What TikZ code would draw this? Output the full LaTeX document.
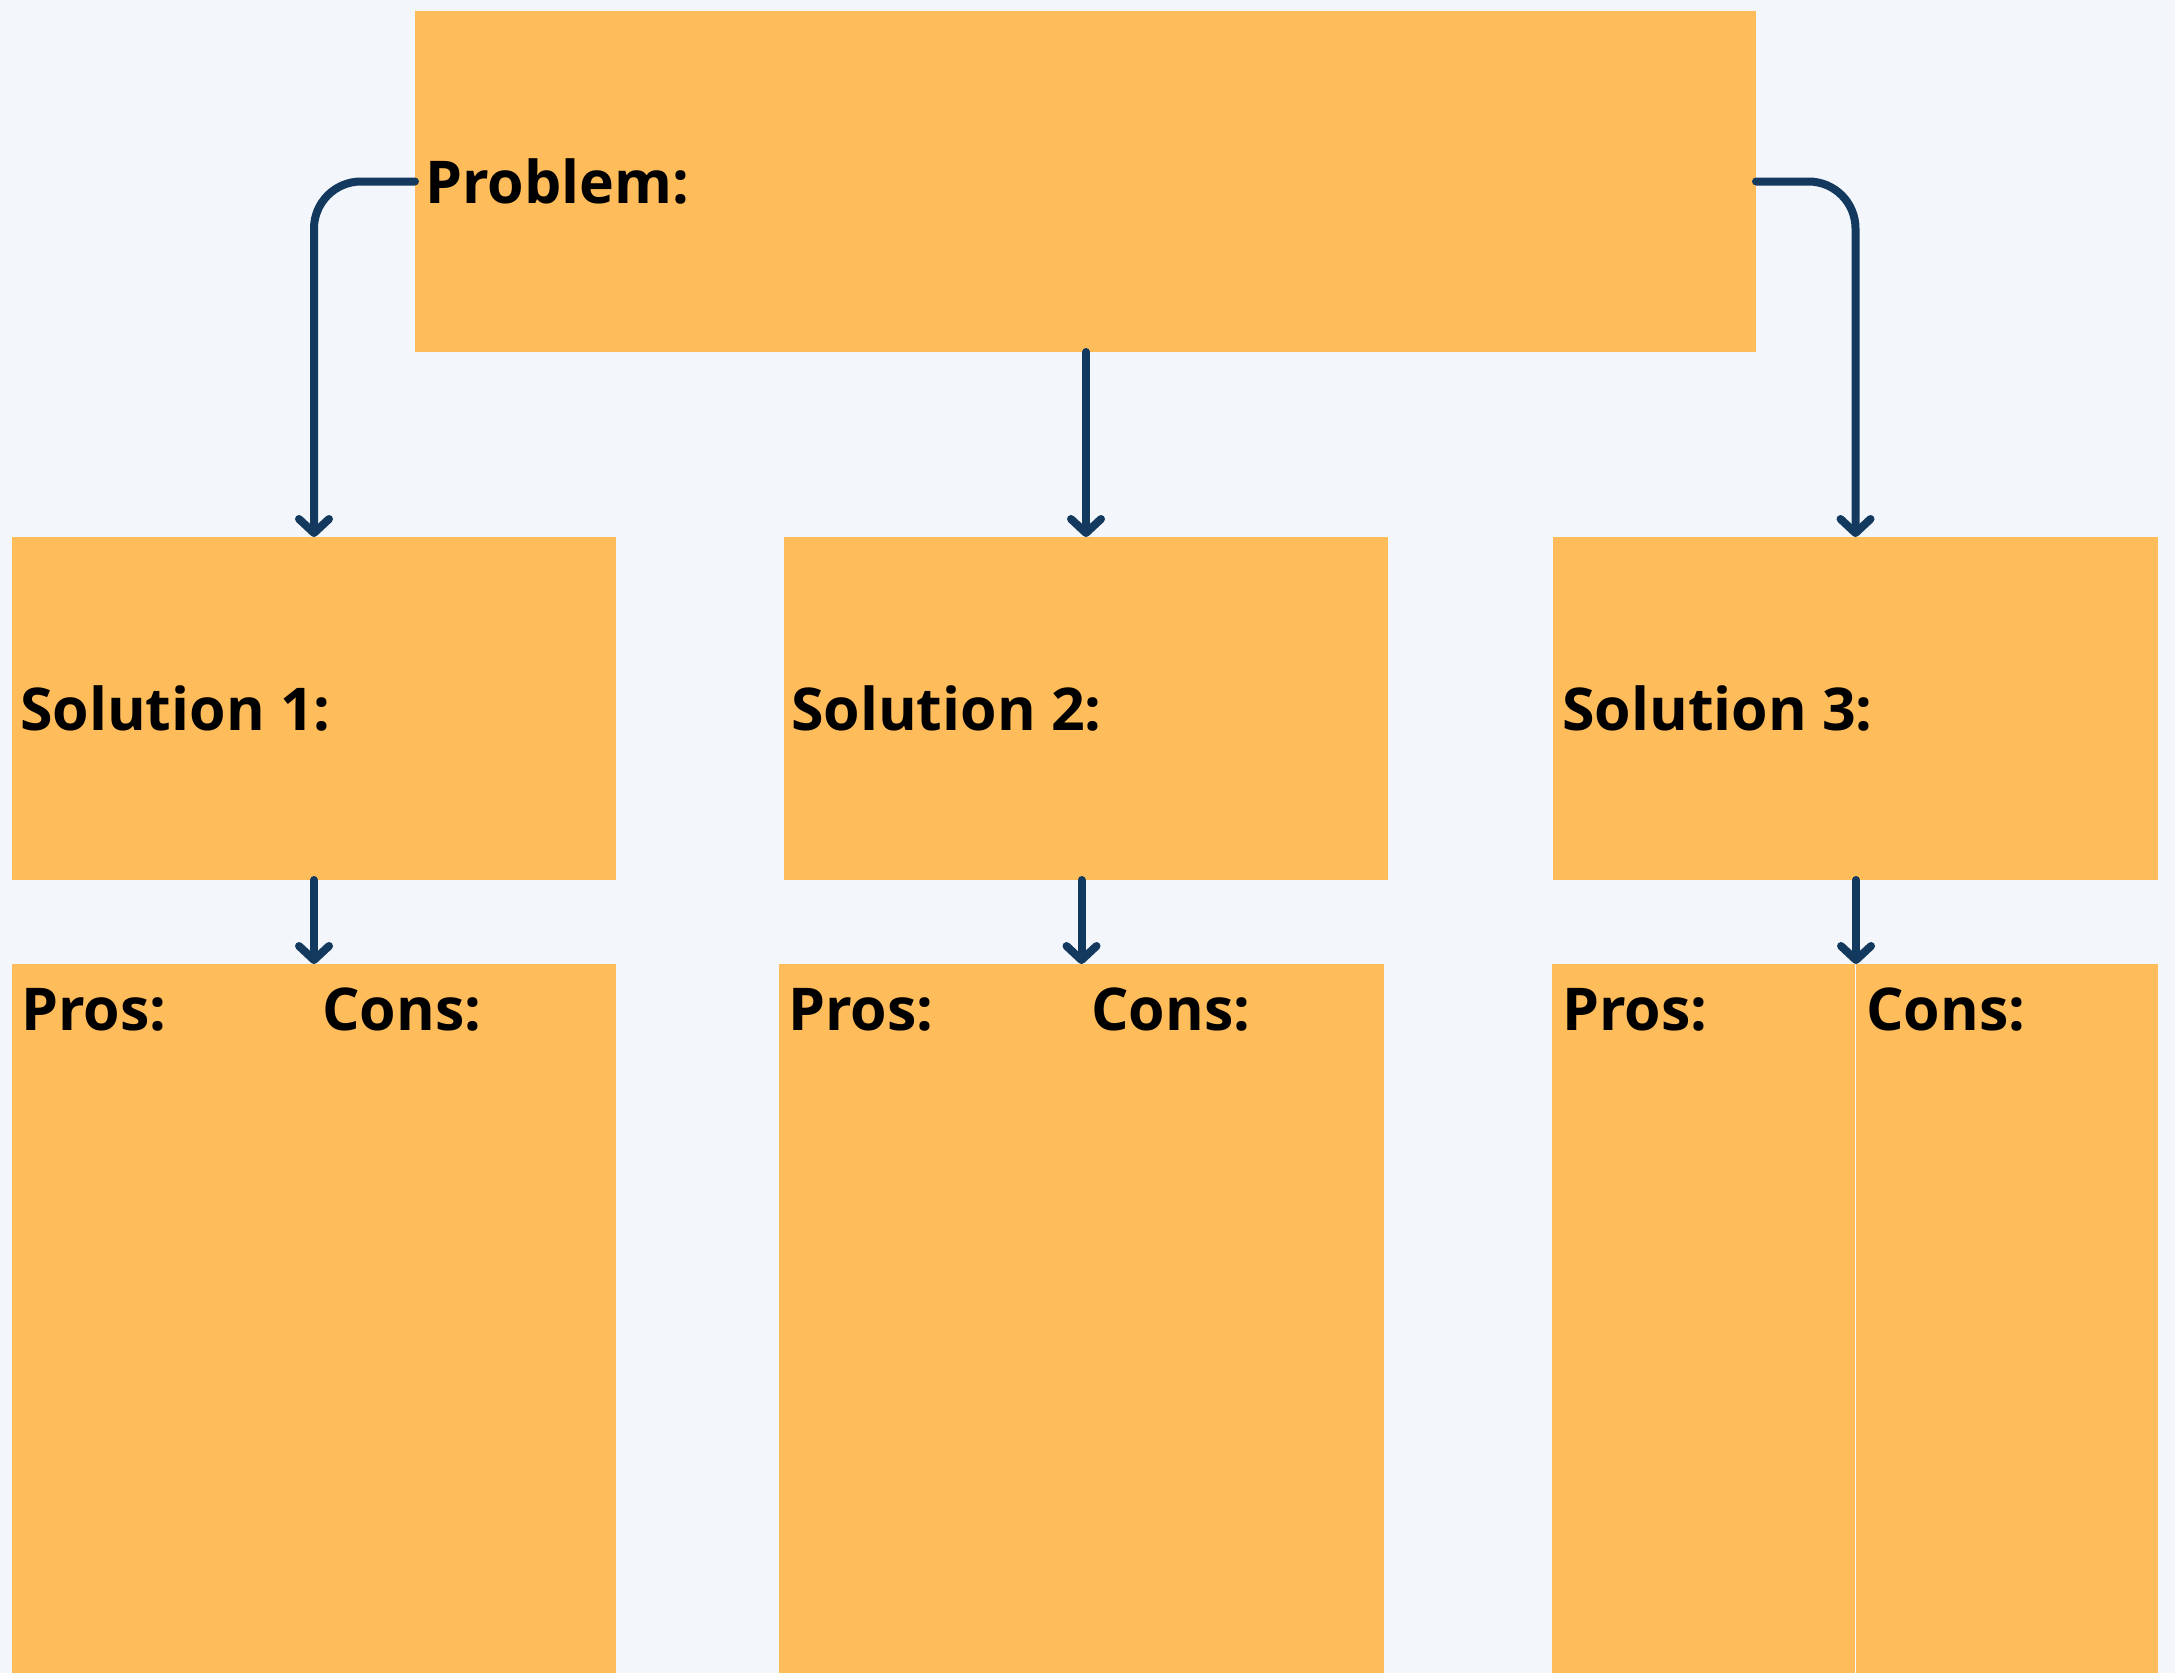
\documentclass[tikz,border=0pt]{standalone}
\usepackage{fontspec}
\setmainfont{Open Sans}
\usetikzlibrary{arrows.meta}
\definecolor{bgc}{HTML}{F3F6FB}
\definecolor{boxc}{HTML}{FEBC5A}
\definecolor{arrc}{HTML}{133A5E}
\begin{document}
\begin{tikzpicture}[x=1pt,y=-1pt,
  card/.style={fill=boxc,draw=none,inner sep=0,outer sep=0,rectangle},
  lbl/.style={anchor=base west,inner sep=0,font=\fontsize{59}{59}\selectfont\bfseries},
  conn/.style={draw=arrc,line width=8pt,line cap=round,line join=round,
    -{Straight Barb[length=14pt,width=30pt,line cap=round,line join=round]}}]
\fill[bgc] (0,0) rectangle (2175,1673);
\useasboundingbox (0,0) rectangle (2175,1673);
% boxes
\node[card,minimum width=1341pt,minimum height=341pt] (prob) at (1085.5,181.5) {};
\node[card,minimum width=604pt,minimum height=343pt] (sol1) at (314,708.5) {};
\node[card,minimum width=604pt,minimum height=343pt] (sol2) at (1086,708.5) {};
\node[card,minimum width=605pt,minimum height=343pt] (sol3) at (1855.5,708.5) {};
\node[card,minimum width=604pt,minimum height=709pt] (pc1) at (314,1318.5) {};
\node[card,minimum width=605pt,minimum height=709pt] (pc2) at (1081.5,1318.5) {};
\node[card,minimum width=303pt,minimum height=709pt] (pc3a) at (1703.5,1318.5) {};
\node[card,minimum width=302pt,minimum height=709pt] (pc3b) at (2007,1318.5) {};
\coordinate (pc3top) at (1856,964);
% labels
\node[lbl] (tprob) at (425,203) {Problem:};
\node[lbl] (ts1) at (20,730) {Solution 1:};
\node[lbl] (ts2) at (791,730) {Solution 2:};
\node[lbl] (ts3) at (1562,730) {Solution 3:};
\node[lbl] (tp1) at (21,1030) {Pros:};
\node[lbl] (tc1) at (322,1030) {Cons:};
\node[lbl] (tp2) at (788,1030) {Pros:};
\node[lbl] (tc2) at (1091,1030) {Cons:};
\node[lbl] (tp3) at (1562,1030) {Pros:};
\node[lbl] (tc3) at (1866,1030) {Cons:};
% connectors
\draw[conn,rounded corners=47pt] (prob.west) -| (sol1.north);
\draw[conn,rounded corners=47pt] (prob.east) -| (sol3.north);
\draw[conn] (sol2.north |- prob.south) -- (sol2.north);
\draw[conn] (sol1.south) -- (pc1.north);
\draw[conn] (pc2.north |- sol2.south) -- (pc2.north);
\draw[conn] (pc3top |- sol3.south) -- (pc3top);
\end{tikzpicture}
\end{document}
